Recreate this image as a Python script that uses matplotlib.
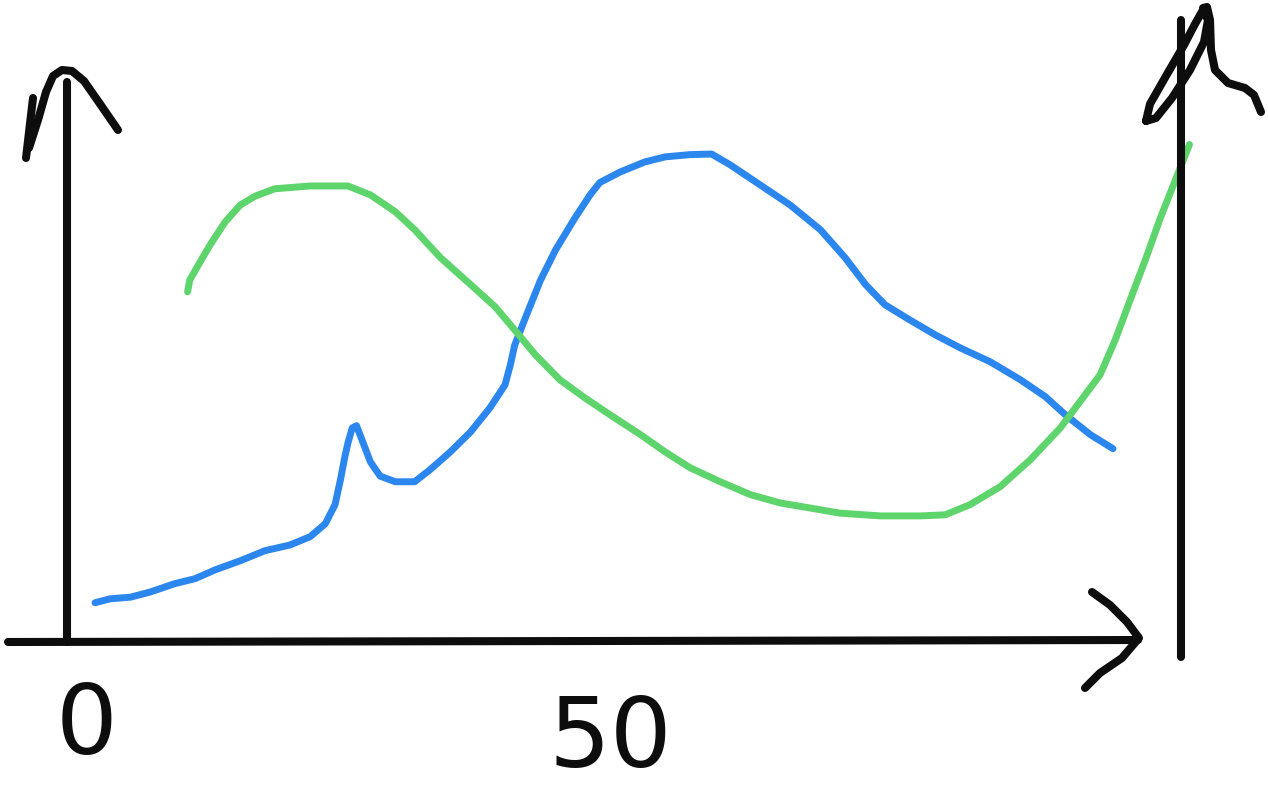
import matplotlib
matplotlib.use("Agg")
import matplotlib.pyplot as plt
from matplotlib.transforms import Affine2D

# ---- data (x: 0..~100, y: arbitrary units) ----
blue_x = [2.6, 4.0, 5.9, 7.7, 10.0, 11.9, 13.8, 16.1, 18.4, 20.7, 22.6, 24.0, 24.9, 25.4,
          25.8, 26.1, 26.5, 26.9, 27.4, 28.2, 29.1, 30.5, 32.3, 33.7, 35.6, 37.5, 39.3,
          40.7, 41.2, 41.6, 42.6, 44.0, 45.4, 47.2, 48.6, 49.5, 51.4, 53.7, 55.6, 57.9,
          59.9, 61.6, 64.4, 67.2, 70.0, 72.3, 74.2, 76.0, 78.3, 80.7, 83.0, 85.8, 88.6,
          90.9, 92.8, 95.1, 97.2]
blue_y = [7.0, 7.7, 8.0, 8.9, 10.4, 11.3, 12.9, 14.5, 16.3, 17.3, 18.8, 21.1, 24.5, 28.9,
          32.9, 35.5, 38.2, 38.6, 36.1, 32.1, 29.6, 28.6, 28.6, 30.7, 33.9, 37.5, 41.8,
          45.9, 49.5, 53.0, 57.9, 64.6, 70.0, 75.7, 79.8, 82.0, 83.9, 85.7, 86.6, 87.0,
          87.1, 85.2, 81.6, 78.0, 73.6, 68.6, 63.8, 60.2, 57.5, 54.8, 52.5, 50.0, 46.8,
          43.8, 40.5, 37.0, 34.5]

green_x = [11.2, 11.4, 12.2, 13.3, 14.7, 16.1, 17.5, 19.3, 22.6, 26.1, 28.2, 30.5, 32.3,
           34.7, 37.5, 39.8, 41.6, 43.5, 45.8, 48.1, 50.5, 53.3, 55.6, 57.9, 60.7, 63.5,
           66.3, 69.1, 71.8, 75.6, 79.3, 81.6, 83.9, 86.7, 89.5, 92.3, 94.6, 96.0, 97.4,
           98.8, 100.2, 101.6, 103.0, 104.3]
green_y = [62.5, 64.6, 67.3, 70.9, 75.0, 78.0, 79.6, 80.9, 81.4, 81.4, 79.8, 76.8, 73.6,
           68.6, 63.8, 59.8, 55.7, 51.3, 46.8, 43.6, 40.5, 37.0, 33.9, 31.1, 28.6, 26.3,
           24.8, 23.9, 23.0, 22.5, 22.5, 22.7, 24.5, 27.7, 32.5, 38.2, 44.1, 47.7, 53.9,
           61.1, 68.2, 75.7, 82.5, 88.8]

tick_labels = ["0", "50"]
tick_values = [0, 50]

BLUE = "#2b87ee"
GREEN = "#5ed46c"
INK = "#0d0d0d"

W, H = 1268, 802
fig = plt.figure(figsize=(W / 100, H / 100), dpi=100)
ax = fig.add_axes([0, 0, 1, 1])
ax.set_xlim(-6.23, 111.6)
ax.set_ylim(-28.57, 114.6)
ax.axis("off")

# pixel-space transform for the hand-drawn decorations (y downwards)
px = Affine2D().scale(1 / W, -1 / H).translate(0, 1) + fig.transFigure

def stroke(pts, lw=5.8):
    xs = [p[0] for p in pts]
    ys = [p[1] for p in pts]
    ax.plot(xs, ys, color=INK, lw=lw, solid_capstyle="round",
            solid_joinstyle="round", transform=px, zorder=3)

# axes
stroke([(67, 642), (67, 82)])
stroke([(8, 642), (600, 641), (1138, 640)])
stroke([(1181, 20), (1181, 657)])
# y arrow head
stroke([(33, 98), (26, 158)])
stroke([(29, 148), (38, 120), (46, 92), (53, 76), (62, 70), (72, 71), (84, 81),
        (98, 101), (118, 130)])
# x arrow head
stroke([(1092, 592), (1110, 605), (1127, 622), (1139, 638), (1122, 658), (1100, 673),
        (1085, 688)])
# right top scribble
stroke([(1146, 121), (1150, 104), (1166, 76), (1184, 45), (1195, 24), (1203, 10),
        (1208, 20), (1204, 42), (1190, 70), (1172, 98), (1156, 118), (1146, 121)])
stroke([(1203, 8), (1207, 7), (1210, 20), (1211, 50), (1215, 70), (1228, 83),
        (1245, 88), (1254, 95), (1261, 112)])

# data curves
ax.plot(blue_x, blue_y, color=BLUE, lw=5.0, solid_capstyle="round",
        solid_joinstyle="round", zorder=2)
ax.plot(green_x, green_y, color=GREEN, lw=5.0, solid_capstyle="round",
        solid_joinstyle="round", zorder=2)

# tick labels
ax.text(tick_values[0] + 1.8, -15.3, tick_labels[0], fontsize=70, color=INK,
        ha="center", va="center", family="DejaVu Sans")
ax.text(tick_values[1] + 0.5, -17.6, tick_labels[1], fontsize=70, color=INK,
        ha="center", va="center", family="DejaVu Sans")

fig.savefig("out.png", dpi=100, facecolor="white")
